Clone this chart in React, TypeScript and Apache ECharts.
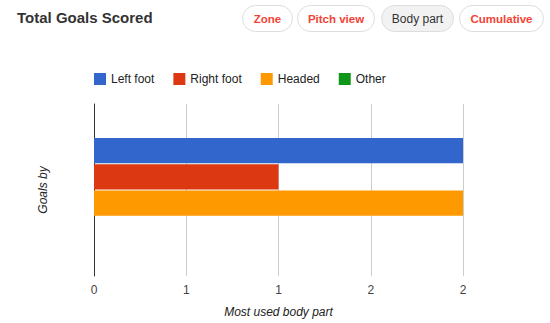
import React, { useEffect, useRef } from "react";
import * as echarts from "echarts";

const categories = ["Goals"];
const seriesNames = ["Left foot", "Right foot", "Headed", "Other"];
const leftFoot = [2];
const rightFoot = [1];
const headed = [2];
const other = [0];
const xTickLabels = ["0", "1", "1", "2", "2"];
const buttons = ["Zone", "Pitch view", "Body part", "Cumulative"];
const activeButton = "Body part";

const colors = ["#3366cc", "#dc3912", "#ff9900", "#109618"];
const FONT = "'Liberation Sans', Arial, sans-serif";

export default function App() {
  const ref = useRef<HTMLDivElement>(null);
  useEffect(() => {
    if (!ref.current) return;
    const chart = echarts.init(ref.current, null, { renderer: "svg" });
    const btnBoxes = [
      { x: 242, w: 50 },
      { x: 297, w: 77 },
      { x: 381, w: 72 },
      { x: 459, w: 84 },
    ];
    const btnGraphics: any[] = [];
    buttons.forEach((b, i) => {
      const box = btnBoxes[i];
      const active = b === activeButton;
      btnGraphics.push({
        type: "rect",
        shape: { x: box.x + 0.5, y: 5.5, width: box.w, height: 26, r: 13 },
        style: { fill: active ? "#f2f2f2" : "#ffffff", stroke: "#dddddd", lineWidth: 1 },
      });
      btnGraphics.push({
        type: "text",
        x: box.x + box.w / 2 + 0.5,
        y: 18.5,
        style: {
          text: b,
          align: "center",
          verticalAlign: "middle",
          fontFamily: FONT,
          fontSize: active ? 12 : 11.5,
          fontWeight: active ? "normal" : "bold",
          fill: active ? "#333333" : "#f44336",
        },
      });
    });
    const data = [leftFoot, rightFoot, headed, other];
    chart.setOption({
      animation: false,
      color: colors,
      textStyle: { fontFamily: FONT },
      legend: {
        left: 94,
        top: 73,
        padding: 0,
        icon: "rect",
        itemWidth: 12,
        itemHeight: 12,
        itemGap: 19,
        data: seriesNames,
        textStyle: { fontSize: 12, color: "#222222", fontFamily: FONT },
      },
      grid: { left: 94, right: 87, top: 104, bottom: 47, containLabel: false },
      xAxis: {
        type: "value",
        min: 0,
        max: 2,
        interval: 0.5,
        axisLine: { show: false },
        axisTick: { show: false },
        splitLine: { show: true, lineStyle: { color: "#cccccc", width: 1 } },
        axisLabel: {
          margin: 8,
          fontSize: 12,
          color: "#444444",
          fontFamily: FONT,
          formatter: (v: number) => xTickLabels[Math.round(v / 0.5)] ?? "",
        },
        name: "Most used body part",
        nameLocation: "middle",
        nameGap: 30,
        nameTextStyle: { fontSize: 12, fontStyle: "italic", color: "#222222", fontFamily: FONT },
      },
      yAxis: {
        type: "category",
        data: categories,
        inverse: true,
        axisLine: { show: true, lineStyle: { color: "#333333", width: 1 } },
        axisTick: { show: false },
        axisLabel: { show: false },
        splitLine: { show: false },
      },
      series: seriesNames.map((n, i) => ({
        name: n,
        type: "bar",
        data: data[i],
        barCategoryGap: "39.5%",
        barGap: "4%",
      })),
      graphic: [
        {
          type: "text",
          left: 17,
          top: 10,
          style: {
            text: "Total Goals Scored",
            fontFamily: FONT,
            fontSize: 15,
            fontWeight: "bold",
            fill: "#333333",
          },
        },
        {
          type: "text",
          x: 42.5,
          y: 190,
          rotation: Math.PI / 2,
          style: {
            text: "Goals by",
            align: "center",
            verticalAlign: "middle",
            fontFamily: FONT,
            fontSize: 12,
            fontStyle: "italic",
            fill: "#222222",
          },
        },
        ...btnGraphics,
      ],
    });
    return () => chart.dispose();
  }, []);
  return (
    <div
      ref={ref}
      style={{ position: "fixed", left: 0, top: 0, width: 550, height: 323, background: "#ffffff" }}
    />
  );
}
